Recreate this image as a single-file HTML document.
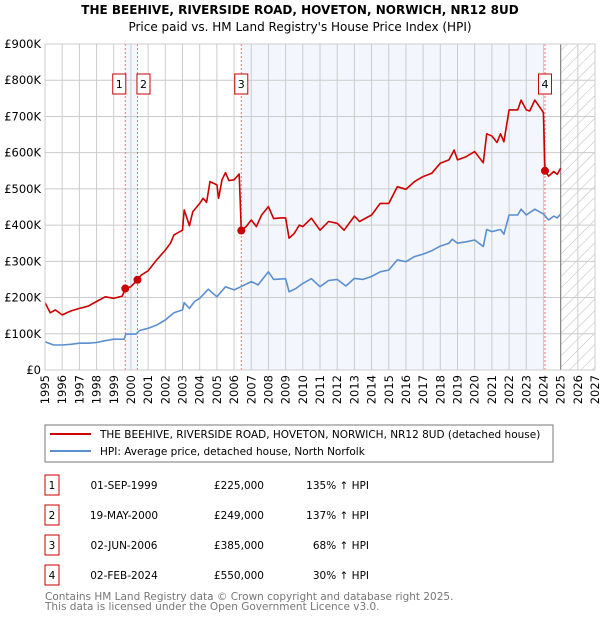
<!DOCTYPE html>
<html><head><meta charset="utf-8"><style>
body{margin:0;background:#fff;font-family:"DejaVu Sans","Liberation Sans",sans-serif;}
#wrap{position:relative;width:600px;height:620px;overflow:hidden}
</style></head><body><div id="wrap">
<svg id="svg" width="600" height="620" xmlns="http://www.w3.org/2000/svg" font-family="DejaVu Sans, Liberation Sans, sans-serif">
<text x="300" y="14" text-anchor="middle" font-size="12" font-weight="bold">THE BEEHIVE, RIVERSIDE ROAD, HOVETON, NORWICH, NR12 8UD</text>
<text x="300" y="31" text-anchor="middle" font-size="12">Price paid vs. HM Land Registry's House Price Index (HPI)</text>
<g id="plot"></g>
<rect x="45" y="425" width="508" height="37" fill="#fff" stroke="#777" stroke-width="1"/>
<line x1="50" y1="434" x2="91" y2="434" stroke="#cc0000" stroke-width="2"/>
<text x="100" y="438" font-size="10.5">THE BEEHIVE, RIVERSIDE ROAD, HOVETON, NORWICH, NR12 8UD (detached house)</text>
<line x1="50" y1="451" x2="91" y2="451" stroke="#5b8fd0" stroke-width="2"/>
<text x="100" y="455" font-size="10.5">HPI: Average price, detached house, North Norfolk</text>
<g id="tbl" font-size="10.5"></g>
<text x="45" y="600" font-size="10.5" fill="#777">Contains HM Land Registry data © Crown copyright and database right 2025.</text>
<text x="45" y="610" font-size="10.5" fill="#777">This data is licensed under the Open Government Licence v3.0.</text>
</svg></div>
<script>
const redYears=[1995,1995.3,1995.6,1996,1996.5,1997,1997.5,1998,1998.5,1999,1999.5,1999.67,2000,2000.38,2000.6,2001,2001.5,2002,2002.3,2002.5,2003,2003.1,2003.4,2003.6,2004,2004.2,2004.4,2004.6,2005,2005.1,2005.3,2005.5,2005.7,2006,2006.3,2006.42,2006.7,2007,2007.3,2007.6,2008,2008.3,2008.7,2009,2009.2,2009.5,2009.8,2010,2010.5,2011,2011.5,2012,2012.4,2013,2013.3,2014,2014.5,2015,2015.5,2016,2016.5,2017,2017.5,2018,2018.5,2018.8,2019,2019.5,2020,2020.5,2020.7,2021,2021.3,2021.5,2021.7,2022,2022.5,2022.7,2023,2023.2,2023.5,2023.9,2024.0,2024.09,2024.3,2024.6,2024.8,2025.0];
const redValues=[186,158,166,152,163,170,176,189,202,198,204,225,230,249,262,274,304,331,350,373,386,442,398,437,460,474,463,520,511,474,525,545,523,525,541,385,396,414,396,428,451,418,420,420,364,377,400,396,419,386,410,405,386,425,410,428,460,460,506,499,520,534,543,571,580,607,580,589,603,572,652,646,628,652,630,718,718,745,718,715,745,718,710,550,535,548,540,557];
const hpiYears=[1995,1995.5,1996,1996.5,1997,1997.5,1998,1998.5,1999,1999.6,1999.7,2000.3,2000.5,2001,2001.5,2002,2002.5,2003,2003.1,2003.4,2003.7,2004,2004.5,2005,2005.5,2006,2006.4,2007,2007.4,2008,2008.3,2009,2009.2,2009.6,2010,2010.5,2011,2011.5,2012,2012.5,2013,2013.5,2014,2014.5,2015,2015.5,2016,2016.5,2017,2017.5,2018,2018.5,2018.7,2019,2019.5,2020,2020.5,2020.7,2021,2021.5,2021.7,2022,2022.5,2022.7,2023,2023.5,2024,2024.3,2024.6,2024.8,2025];
const hpiValues=[78,69,69,71,74,74,76,81,85,85,99,99,109,115,124,138,158,166,186,170,189,198,223,202,230,221,230,244,235,271,250,252,216,225,239,252,230,247,250,232,253,250,258,271,276,304,299,313,320,329,342,350,361,350,354,359,341,388,382,388,375,428,428,444,428,444,431,414,425,420,430];
const saleYears=[1999.67,2000.38,2006.42,2024.09];
const saleValues=[225,249,385,550];
const saleLabels=["1","2","3","4"];
const saleDates=["01-SEP-1999","19-MAY-2000","02-JUN-2006","02-FEB-2024"];
const salePrices=["£225,000","£249,000","£385,000","£550,000"];
const saleHpi=["135% ↑ HPI","137% ↑ HPI","68% ↑ HPI","30% ↑ HPI"];
const yTicks=[0,100,200,300,400,500,600,700,800,900];
const yTickLabels=["£0","£100K","£200K","£300K","£400K","£500K","£600K","£700K","£800K","£900K"];
const xTicks=[1995,1996,1997,1998,1999,2000,2001,2002,2003,2004,2005,2006,2007,2008,2009,2010,2011,2012,2013,2014,2015,2016,2017,2018,2019,2020,2021,2022,2023,2024,2025,2026,2027];

const X0=45,X1=595,Y0=370,Y1=44;
const xs=y=>X0+(y-1995)/(2027-1995)*(X1-X0);
const ys=v=>Y0-v/900*(Y0-Y1);
const NS="http://www.w3.org/2000/svg";
const plot=document.getElementById('plot');
function mk(tag,attrs,parent){const e=document.createElementNS(NS,tag);for(const k in attrs)e.setAttribute(k,attrs[k]);(parent||plot).appendChild(e);return e;}

let r=mk('rect',{x:xs(saleYears[0]),y:Y1,width:xs(saleYears[1])-xs(saleYears[0]),height:Y0-Y1,fill:'#f3f6fd'});


r=mk('rect',{x:xs(saleYears[2]),y:Y1,width:xs(saleYears[3])-xs(saleYears[2]),height:Y0-Y1,fill:'#f3f6fd'});


const defs=mk('defs',{});
const pat=mk('pattern',{id:'hatch',width:8,height:8,patternUnits:'userSpaceOnUse',patternTransform:'rotate(45)'},defs);
mk('line',{x1:0,y1:0,x2:0,y2:8,stroke:'#bbb','stroke-width':1},pat);
r=mk('rect',{x:xs(2025),y:Y1,width:X1-xs(2025),height:Y0-Y1,fill:'url(#hatch)'});


yTicks.forEach((t,i)=>{
  const l=mk('line',{x1:X0,x2:X1,y1:ys(t),y2:ys(t),stroke:'#ccc','stroke-width':1});
  
  
  const tx=mk('text',{x:X0-4,y:ys(t)+4,'text-anchor':'end','font-size':11.5});
  tx.textContent=yTickLabels[i];
  
  
});
xTicks.forEach(t=>{
  const l=mk('line',{x1:xs(t),x2:xs(t),y1:Y1,y2:Y0,stroke:'#ccc','stroke-width':1});
  
  
  const tx=mk('text',{x:0,y:0,'text-anchor':'end','font-size':11.5,transform:`translate(${xs(t)+4},${Y0+5}) rotate(-90)`});
  tx.textContent=t;
  
  
});
let ln=mk('line',{x1:xs(2025),x2:xs(2025),y1:Y1,y2:Y0,stroke:'#888','stroke-width':1.2});


saleYears.forEach((y,i)=>{
  const l=mk('line',{x1:xs(y),x2:xs(y),y1:Y1,y2:Y0,stroke:'#f07070','stroke-width':1,'stroke-dasharray':'2,2'});
  
  
});
function path(xa,va,color,name){
  const d=xa.map((y,i)=>(i?'L':'M')+xs(y).toFixed(1)+','+ys(va[i]).toFixed(1)).join('');
  const p=mk('path',{d,fill:'none',stroke:color,'stroke-width':1.6,'stroke-linejoin':'round'});
  
  
}
path(hpiYears,hpiValues,'#5b8fd0','hpi-line');
path(redYears,redValues,'#cc0000','property-price-line');
saleYears.forEach((y,i)=>{
  const c=mk('circle',{cx:xs(y),cy:ys(saleValues[i]),r:4,fill:'#cc0000'});
  
  
  const offs=[-6,6,0,0];
  const bx=xs(y)+offs[i]-6.5;
  const b=mk('rect',{x:bx,y:74,width:13,height:20,fill:'#fff',stroke:'#cc0000','stroke-width':1});
  
  
  const t=mk('text',{x:bx+6.5,y:88,'text-anchor':'middle','font-size':11});
  t.textContent=saleLabels[i];
  
  
});
mk('rect',{x:X0,y:Y1,width:X1-X0,height:Y0-Y1,fill:'none',stroke:'#ccc','stroke-width':1});
const tbl=document.getElementById('tbl');
saleLabels.forEach((lab,i)=>{
  const cy=485+i*30;
  const b=mk('rect',{x:45,y:cy-10,width:14,height:20,fill:'#fff',stroke:'#cc0000','stroke-width':1},tbl);
  
  
  const cells=[[52,lab,'middle','row-number'],[124,saleDates[i],'middle','sale-date'],[264,salePrices[i],'end','sale-price'],[369,saleHpi[i],'end','hpi-change']];
  cells.forEach(c=>{
    const t=mk('text',{x:c[0],y:cy+4,'text-anchor':c[2]},tbl);
    t.textContent=c[1];
    
    
  });
});
</script></body></html>
